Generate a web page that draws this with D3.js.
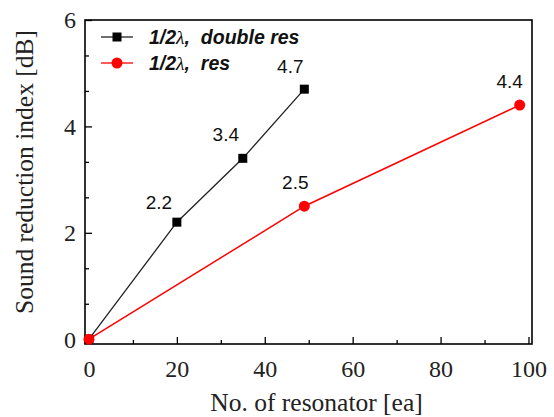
<!DOCTYPE html>
<html>
<head>
<meta charset="utf-8">
<script src="https://cdn.jsdelivr.net/npm/d3@7"></script>
<style>
  body { margin: 0; background: #fff; }
</style>
</head>
<body>
<div id="wrapper"></div>
<script>
// data
const doubleResX = [0, 20, 35, 49]
const doubleResY = [0, 2.2, 3.4, 4.7]
const doubleResLabels = ["", "2.2", "3.4", "4.7"]
const resX = [0, 49, 98]
const resY = [0, 2.5, 4.4]
const resLabels = ["", "2.5", "4.4"]
const xTicks = [0, 20, 40, 60, 80, 100]
const yTicks = [0, 2, 4, 6]
const seriesNames = ["double res", "res"]

function drawChart() {
  const dimensions = {
    width: 554,
    height: 417,
    margin: { top: 20, right: 22, bottom: 73, left: 85 },
  }
  dimensions.boundedWidth = dimensions.width - dimensions.margin.left - dimensions.margin.right
  dimensions.boundedHeight = dimensions.height - dimensions.margin.top - dimensions.margin.bottom

  const wrapper = d3.select("#wrapper")
    .append("svg")
      .attr("width", dimensions.width)
      .attr("height", dimensions.height)

  const bounds = wrapper.append("g")
      .attr("transform", `translate(${dimensions.margin.left},${dimensions.margin.top})`)

  // scales
  const xScale = d3.scaleLinear()
    .domain([-0.9, 100.8])
    .range([0, dimensions.boundedWidth])

  const yScale = d3.scaleLinear()
    .domain([-0.09, 6])
    .range([dimensions.boundedHeight, 0])

  // axes (ticks point inward)
  const serif = "'Liberation Serif', 'Times New Roman', serif"

  const xMinor = d3.range(10, 100, 20)
  const xAxisMinor = bounds.append("g")
      .attr("transform", `translate(0,${dimensions.boundedHeight})`)
      .call(d3.axisBottom(xScale).tickValues(xMinor).tickSize(-4).tickFormat(""))
  const xAxis = bounds.append("g")
      .attr("transform", `translate(0,${dimensions.boundedHeight})`)
      .call(d3.axisBottom(xScale).tickValues(xTicks).tickSize(-7).tickPadding(16).tickFormat(d3.format("d")))

  const yMinor = [2/3, 4/3, 8/3, 10/3, 14/3, 16/3]
  const yAxisMinor = bounds.append("g")
      .call(d3.axisLeft(yScale).tickValues(yMinor).tickSize(-4).tickFormat(""))
  const yAxis = bounds.append("g")
      .call(d3.axisLeft(yScale).tickValues(yTicks).tickSize(-7).tickPadding(9).tickFormat(d3.format("d")))

  ;[xAxis, yAxis, xAxisMinor, yAxisMinor].forEach(ax => {
    ax.select(".domain").remove()
    ax.selectAll(".tick line").attr("stroke", "#000").attr("stroke-width", 1.3)
    ax.selectAll(".tick text")
      .attr("fill", "#222")
      .style("font-family", serif)
      .style("font-size", "24px")
  })
  yAxis.selectAll(".tick text").attr("dy", "0.33em")

  // frame
  bounds.append("rect")
      .attr("width", dimensions.boundedWidth)
      .attr("height", dimensions.boundedHeight)
      .attr("fill", "none")
      .attr("stroke", "#000")
      .attr("stroke-width", 1.6)

  // data
  const doubleRes = doubleResX.map((x, i) => ({ x, y: doubleResY[i], label: doubleResLabels[i] }))
  const res = resX.map((x, i) => ({ x, y: resY[i], label: resLabels[i] }))

  const lineGenerator = d3.line()
    .x(d => xScale(d.x))
    .y(d => yScale(d.y))

  bounds.append("path")
      .attr("d", lineGenerator(doubleRes))
      .attr("fill", "none")
      .attr("stroke", "#222")
      .attr("stroke-width", 1.3)

  bounds.append("path")
      .attr("d", lineGenerator(res))
      .attr("fill", "none")
      .attr("stroke", "#ff0000")
      .attr("stroke-width", 1.5)

  bounds.selectAll(".sq")
    .data(doubleRes)
    .join("rect")
      .attr("x", d => xScale(d.x) - 4.5)
      .attr("y", d => yScale(d.y) - 4.5)
      .attr("width", 9)
      .attr("height", 9)
      .attr("fill", "#000")

  bounds.selectAll(".dot")
    .data(res)
    .join("circle")
      .attr("cx", d => xScale(d.x))
      .attr("cy", d => yScale(d.y))
      .attr("r", 5.5)
      .attr("fill", "#ff0000")

  // value labels
  const sans = "'Liberation Sans', Arial, sans-serif"
  const labelOffsets = [[0, 0], [-18, -13], [-17, -17], [-14, -16]]
  bounds.selectAll(".lblA")
    .data(doubleRes)
    .join("text")
      .attr("x", (d, i) => xScale(d.x) + labelOffsets[i][0])
      .attr("y", (d, i) => yScale(d.y) + labelOffsets[i][1])
      .attr("text-anchor", "middle")
      .style("font-family", sans)
      .style("font-size", "19px")
      .attr("fill", "#111")
      .text(d => d.label)

  const resOffsets = [[0, 0], [-9, -17], [-10, -17]]
  bounds.selectAll(".lblB")
    .data(res)
    .join("text")
      .attr("x", (d, i) => xScale(d.x) + resOffsets[i][0])
      .attr("y", (d, i) => yScale(d.y) + resOffsets[i][1])
      .attr("text-anchor", "middle")
      .style("font-family", sans)
      .style("font-size", "19px")
      .attr("fill", "#111")
      .text(d => d.label)

  // legend
  const legend = bounds.append("g")
  const legendItems = [
    { name: seriesNames[0], color: "#222", shape: "square", y: 17 },
    { name: seriesNames[1], color: "#ff0000", shape: "circle", y: 43 },
  ]
  legendItems.forEach(item => {
    const g = legend.append("g").attr("transform", `translate(0,${item.y})`)
    g.append("line")
        .attr("x1", 16).attr("x2", 48)
        .attr("stroke", item.color)
        .attr("stroke-width", 1.3)
    if (item.shape === "square") {
      g.append("rect").attr("x", 27.5).attr("y", -4.5).attr("width", 9).attr("height", 9).attr("fill", "#000")
    } else {
      g.append("circle").attr("cx", 32).attr("r", 5.5).attr("fill", "#ff0000")
    }
    const t = g.append("text")
        .attr("x", 64)
        .attr("dy", "0.35em")
        .style("font-family", sans)
        .style("font-size", "19.5px")
        .style("font-weight", "bold")
        .style("font-style", "italic")
        .attr("fill", "#111")
    t.append("tspan").text("1/2")
    t.append("tspan").style("font-family", serif).style("font-weight", "normal").text("λ")
    t.append("tspan").attr("xml:space", "preserve").text(",  " + item.name)
  })

  // axis titles
  wrapper.append("text")
      .attr("x", dimensions.margin.left + dimensions.boundedWidth / 2 + 8)
      .attr("y", 411)
      .attr("text-anchor", "middle")
      .style("font-family", serif)
      .style("font-size", "25.5px")
      .attr("fill", "#222")
      .text("No. of resonator [ea]")

  wrapper.append("text")
      .attr("transform", `translate(33,${dimensions.margin.top + dimensions.boundedHeight / 2 - 10}) rotate(-90)`)
      .attr("text-anchor", "middle")
      .style("font-family", serif)
      .style("font-size", "25.5px")
      .attr("fill", "#222")
      .text("Sound reduction index [dB]")
}

drawChart()
</script>
</body>
</html>
